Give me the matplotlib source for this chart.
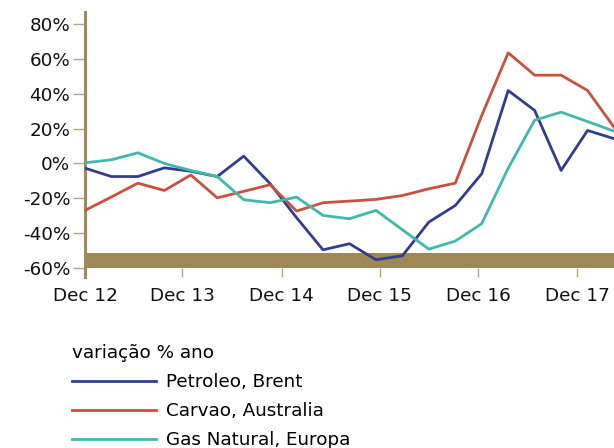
import numpy as np
import matplotlib
matplotlib.use("Agg")
import matplotlib.pyplot as plt

plt.rcParams['font.family'] = ['DejaVu Sans']

# quarterly observations, % change year on year
petroleo = [-2.7, -7.5, -7.5, -2.5, -4.5, -7.5, 4.2, -11.6, -31.1, -49.5, -46.0,
            -55.2, -52.9, -33.6, -24.1, -5.9, 41.8, 30.4, -4.0, 18.9, 14.2]
carvao = [-26.9, -19.2, -11.3, -15.5, -6.6, -19.7, -16.0, -12.2, -27.3, -22.5, -21.6,
          -20.6, -18.4, -14.5, -11.3, 27.5, 63.4, 50.6, 50.6, 41.8, 20.8]
gas = [0.4, 2.1, 6.1, 0.0, -4.0, -7.5, -20.8, -22.5, -19.3, -29.8, -31.7,
       -26.9, -38.0, -49.1, -44.5, -34.5, -2.7, 24.8, 29.4, 24.0, 18.5]

tick_labels = ["Dec 12", "Dec 13", "Dec 14", "Dec 15", "Dec 16", "Dec 17"]
tick_pos = [0, 3.68, 7.43, 11.15, 14.87, 18.6]
y_ticks = [80, 60, 40, 20, 0, -20, -40, -60]

tan = "#a08a5a"
fs = 13.2
x = np.arange(len(petroleo))

fig = plt.figure(figsize=(6.14, 4.48), dpi=100)
ax = fig.add_axes([0.1384, 0.382, 0.8616, 0.592])

ax.axhspan(-60, -51.5, color="#9e8856", lw=0, zorder=1)
ax.plot(x, petroleo, color="#333d90", lw=2.0, label="Petroleo, Brent", zorder=3)
ax.plot(x, carvao, color="#c8513f", lw=2.0, label="Carvao, Australia", zorder=3)
ax.plot(x, gas, color="#40b8aa", lw=2.0, label="Gas Natural, Europa", zorder=3)

ax.set_xlim(0, 20)
ax.set_ylim(-65, 87)
ax.set_yticks(y_ticks)
ax.set_yticklabels([f"{v}%" for v in y_ticks])
ax.set_xticks(tick_pos)
ax.set_xticklabels(tick_labels)

for s in ["top", "right", "bottom"]:
    ax.spines[s].set_visible(False)
ax.spines["left"].set_color(tan)
ax.spines["left"].set_linewidth(2.2)

ax.tick_params(axis="y", length=8.6, width=1, color="#b8a47a", pad=2,
               labelsize=fs, labelcolor="#111111")
ax.tick_params(axis="x", direction="in", length=6.5, width=1, color="#b8a47a",
               pad=7, labelsize=fs, labelcolor="#111111")

leg = fig.legend(loc="upper left", bbox_to_anchor=(0.117, 0.232), frameon=False,
                 title="variação % ano", fontsize=fs, title_fontsize=fs,
                 handlelength=4.6, handletextpad=0.55, labelspacing=0.6,
                 borderpad=0, borderaxespad=0, alignment="left")
for h in leg.get_lines():
    h.set_linewidth(2.0)

fig.savefig("out.png", dpi=100)
